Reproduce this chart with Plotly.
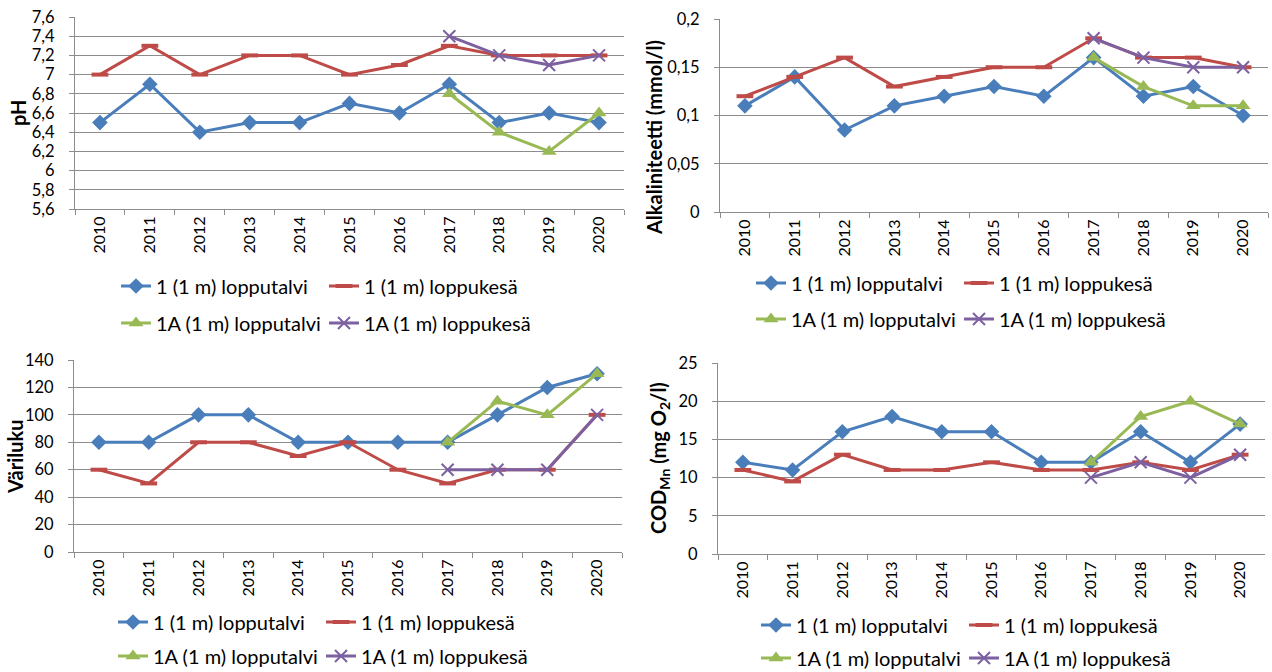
import plotly.graph_objects as go

years = ["2010", "2011", "2012", "2013", "2014", "2015", "2016", "2017", "2018", "2019", "2020"]
years_1a = ["2017", "2018", "2019", "2020"]

series_names = ["1 (1 m) lopputalvi", "1 (1 m) loppukesä", "1A (1 m) lopputalvi", "1A (1 m) loppukesä"]

# pH
ph_1_talvi = [6.5, 6.9, 6.4, 6.5, 6.5, 6.7, 6.6, 6.9, 6.5, 6.6, 6.5]
ph_1_kesa = [7.0, 7.3, 7.0, 7.2, 7.2, 7.0, 7.1, 7.3, 7.2, 7.2, 7.2]
ph_1a_talvi = [6.8, 6.4, 6.2, 6.6]
ph_1a_kesa = [7.4, 7.2, 7.1, 7.2]

# Alkaliniteetti
alk_1_talvi = [0.11, 0.14, 0.085, 0.11, 0.12, 0.13, 0.12, 0.16, 0.12, 0.13, 0.10]
alk_1_kesa = [0.12, 0.14, 0.16, 0.13, 0.14, 0.15, 0.15, 0.18, 0.16, 0.16, 0.15]
alk_1a_talvi = [0.16, 0.13, 0.11, 0.11]
alk_1a_kesa = [0.18, 0.16, 0.15, 0.15]

# Väriluku
var_1_talvi = [80, 80, 100, 100, 80, 80, 80, 80, 100, 120, 130]
var_1_kesa = [60, 50, 80, 80, 70, 80, 60, 50, 60, 60, 100]
var_1a_talvi = [80, 110, 100, 130]
var_1a_kesa = [60, 60, 60, 100]

# COD Mn
cod_1_talvi = [12, 11, 16, 18, 16, 16, 12, 12, 16, 12, 17]
cod_1_kesa = [11, 9.5, 13, 11, 11, 12, 11, 11, 12, 11, 13]
cod_1a_talvi = [12, 18, 20, 17]
cod_1a_kesa = [10, 12, 10, 13]

W, H = 1272, 672
BLUE, RED, GREEN, PURPLE = "#4A7EBB", "#BE4B48", "#98B954", "#7D60A0"
GRID = "#8C8C8C"
FONT = "Lato"

def px_x(a, b):
    return [a / W, b / W]

def px_y(top, bottom):
    return [1 - bottom / H, 1 - top / H]

panels = [
    dict(data=(ph_1_talvi, ph_1_kesa, ph_1a_talvi, ph_1a_kesa), x=(75, 624), y=(17, 209),
         rng=[5.6, 7.6], dtick=0.2, leg=(116, 286, 323),
         title="pH", tpos=(18, 113)),
    dict(data=(alk_1_talvi, alk_1_kesa, alk_1a_talvi, alk_1a_kesa), x=(720, 1268), y=(19, 212),
         rng=[0, 0.2], dtick=0.05, leg=(751, 283, 319),
         title="Alkaliniteetti (mmol/l)", tpos=(654, 138)),
    dict(data=(var_1_talvi, var_1_kesa, var_1a_talvi, var_1a_kesa), x=(74, 622), y=(360, 552),
         rng=[0, 140], dtick=20, leg=(113, 622, 656),
         title="Väriluku", tpos=(15, 457)),
    dict(data=(cod_1_talvi, cod_1_kesa, cod_1a_talvi, cod_1a_kesa), x=(718, 1265), y=(363, 554),
         rng=[0, 25], dtick=5, leg=(756, 625, 658),
         title="COD<sub>Mn</sub> (mg O<sub>2</sub>/l)", tpos=(659, 458)),
]

styles = [
    dict(color=BLUE, marker=dict(symbol="diamond", size=12, color=BLUE)),
    dict(color=RED, marker=dict(symbol="line-ew", size=12, color=RED, line=dict(color=RED, width=4))),
    dict(color=GREEN, marker=dict(symbol="triangle-up", size=13, color=GREEN)),
    dict(color=PURPLE, marker=dict(symbol="x-thin", size=12, color=PURPLE, line=dict(color=PURPLE, width=2))),
]
entry_widths = [163, 200, 163, 200]

fig = go.Figure()
layout = dict(
    width=W, height=H, autosize=False,
    margin=dict(l=0, r=0, t=0, b=0, autoexpand=False),
    paper_bgcolor="white", plot_bgcolor="white",
    separators=", ",
    font=dict(family=FONT, size=16, color="#000000"),
    annotations=[],
)

leg_count = 0
for i, p in enumerate(panels):
    n = i + 1
    xa = "x" if n == 1 else f"x{n}"
    ya = "y" if n == 1 else f"y{n}"
    legA = leg_count + 1
    legB = leg_count + 2
    leg_count += 2
    lnameA = "legend" if legA == 1 else f"legend{legA}"
    lnameB = f"legend{legB}"
    for k, (vals, st) in enumerate(zip(p["data"], styles)):
        xs = years if k < 2 else years_1a
        fig.add_trace(go.Scatter(
            x=xs, y=vals, name=series_names[k], mode="lines+markers",
            line=dict(color=st["color"], width=3),
            marker=st["marker"],
            xaxis=xa, yaxis=ya,
            legend=lnameA if k < 2 else lnameB,
            legendwidth=entry_widths[k],
            hoverinfo="skip",
        ))
    layout[f"xaxis{'' if n == 1 else n}"] = dict(
        domain=px_x(*p["x"]), anchor=ya, type="category",
        categoryorder="array", categoryarray=years, range=[-0.5, 10.5],
        tickangle=-90, tickson="boundaries", ticks="outside", ticklen=5,
        tickcolor=GRID, showline=True, linecolor=GRID, linewidth=1,
        showgrid=False, zeroline=False, automargin=False,
        tickfont=dict(family=FONT, size=16, color="#000"),
        fixedrange=True,
    )
    layout[f"yaxis{'' if n == 1 else n}"] = dict(
        domain=px_y(*p["y"]), anchor=xa, range=p["rng"], dtick=p["dtick"],
        tick0=p["rng"][0],
        showgrid=True, gridcolor=GRID, gridwidth=1, zeroline=False,
        showline=True, linecolor=GRID, linewidth=1,
        ticks="outside", ticklen=5, tickcolor=GRID, automargin=False,
        tickfont=dict(family=FONT, size=16.5, color="#000"),
        ticklabelstandoff=11,
        fixedrange=True,
    )
    lx, ly1, ly2 = p["leg"]
    for lname, ly in ((lnameA, ly1), (lnameB, ly2)):
        layout[lname] = dict(
            orientation="h", x=lx / W, y=1 - ly / H, xanchor="left", yanchor="middle",
            font=dict(family=FONT, size=20, color="#000"),
            bgcolor="rgba(0,0,0,0)", borderwidth=0,
            itemclick=False, itemdoubleclick=False,
            tracegroupgap=0,
        )
    tx, ty = p["tpos"]
    layout["annotations"].append(dict(
        text=f"<b>{p['title']}</b>", x=tx / W, y=1 - ty / H, xref="paper", yref="paper",
        textangle=-90, showarrow=False, xanchor="center", yanchor="middle",
        font=dict(family=FONT, size=20, color="#000"),
    ))

fig.update_layout(**layout)
fig.write_html(
    "out.html",
    config={"displayModeBar": False},
    post_script="document.body.style.margin='0';document.body.style.overflow='hidden';",
)
